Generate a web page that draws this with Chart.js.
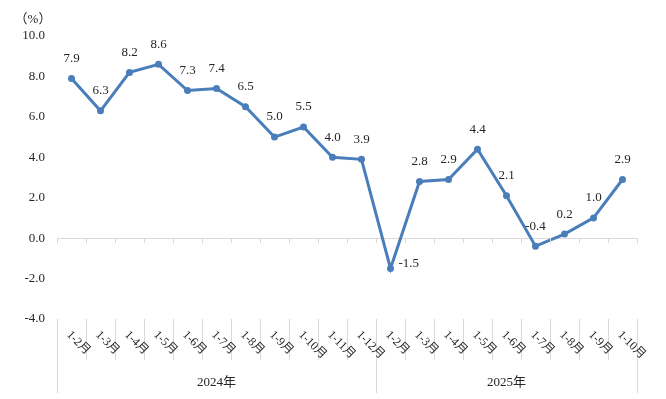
<!DOCTYPE html>
<html>
<head>
<meta charset="utf-8">
<script src="https://cdn.jsdelivr.net/npm/chart.js@4"></script>
<style>
    html, body { margin: 0; padding: 0; background: #fff; }
    #wrap { width: 666px; height: 399px; position: relative; }
</style>
</head>
<body>
<div id="wrap"><canvas id="chart"></canvas></div>
<script>
const months2024 = ['1-2月', '1-3月', '1-4月', '1-5月', '1-6月', '1-7月', '1-8月', '1-9月', '1-10月', '1-11月', '1-12月'];
const months2025 = ['1-2月', '1-3月', '1-4月', '1-5月', '1-6月', '1-7月', '1-8月', '1-9月', '1-10月'];
const values2024 = [7.9, 6.3, 8.2, 8.6, 7.3, 7.4, 6.5, 5.0, 5.5, 4.0, 3.9];
const values2025 = [-1.5, 2.8, 2.9, 4.4, 2.1, -0.4, 0.2, 1.0, 2.9];
const years = ['2024年', '2025年'];
const yTicks = [-4, -2, 0, 2, 4, 6, 8, 10];
const unitLabel = '（%）';

const labels = months2024.concat(months2025);
const values = values2024.concat(values2025);
const groupSizes = [months2024.length, months2025.length];

const serif = '"Times New Roman", "Liberation Serif", "Noto Sans CJK SC", serif';
const textColor = '#262626';
const sepColor = '#d9d9d9';

// labels above points, rotated month labels, year row, separators
const decorations = {
    id: 'decorations',
    afterDatasetsDraw(chart) {
        const ctx = chart.ctx;
        const xs = chart.scales.x;
        const ys = chart.scales.y;
        const area = chart.chartArea;
        const zeroY = ys.getPixelForValue(0);
        const meta = chart.getDatasetMeta(0);

        ctx.save();
        // small ticks on the zero line
        ctx.strokeStyle = sepColor;
        ctx.lineWidth = 1;
        for (let i = 0; i <= labels.length; i++) {
            const x = Math.round(xs.getPixelForValue(i - 0.5)) + 0.5;
            ctx.beginPath();
            ctx.moveTo(x, zeroY);
            ctx.lineTo(x, zeroY + 5);
            ctx.stroke();
        }

        // separators under the plot
        let boundary = 0;
        const groupEdges = [0];
        groupSizes.forEach(n => { boundary += n; groupEdges.push(boundary); });
        for (let i = 0; i <= labels.length; i++) {
            const x = Math.round(xs.getPixelForValue(i - 0.5)) + 0.5;
            const isGroup = groupEdges.includes(i);
            ctx.beginPath();
            ctx.moveTo(x, area.bottom);
            ctx.lineTo(x, isGroup ? area.bottom + 74 : area.bottom + 41);
            ctx.stroke();
        }

        // rotated month labels
        ctx.fillStyle = textColor;
        ctx.font = '12px ' + serif;
        ctx.textAlign = 'left';
        ctx.textBaseline = 'middle';
        labels.forEach((lab, i) => {
            const x = xs.getPixelForValue(i);
            ctx.save();
            ctx.translate(x - 3, area.bottom + 14);
            ctx.rotate(Math.PI / 4);
            ctx.fillText(lab, 0, 0);
            ctx.restore();
        });

        // year labels
        ctx.font = '13px ' + serif;
        ctx.textAlign = 'center';
        years.forEach((y, g) => {
            const x0 = xs.getPixelForValue(groupEdges[g] - 0.5);
            const x1 = xs.getPixelForValue(groupEdges[g + 1] - 0.5);
            ctx.fillText(y, (x0 + x1) / 2, area.bottom + 64);
        });

        // unit label
        ctx.fillText(unitLabel, 33, 20);

        // value labels
        const minIdx = values.indexOf(Math.min(...values));
        meta.data.forEach((pt, i) => {
            const txt = values[i].toFixed(1);
            if (i === minIdx) {
                ctx.textAlign = 'left';
                ctx.fillText(txt, pt.x + 8, pt.y - 5);
            } else {
                ctx.textAlign = 'center';
                ctx.fillText(txt, pt.x, pt.y - 20);
            }
        });
        ctx.restore();
    }
};

new Chart(document.getElementById('chart'), {
    type: 'line',
    data: {
        labels: labels,
        datasets: [{
            data: values,
            borderColor: '#4A7EBB',
            backgroundColor: '#4A7EBB',
            borderWidth: 3,
            pointRadius: 3.5,
            pointBorderWidth: 0,
            tension: 0,
            fill: false
        }]
    },
    options: {
        responsive: true,
        maintainAspectRatio: false,
        animation: false,
        layout: {
            padding: { top: 36, bottom: 80, left: 0, right: 29 }
        },
        plugins: {
            legend: { display: false },
            tooltip: { enabled: false }
        },
        scales: {
            x: {
                type: 'category',
                offset: true,
                display: false
            },
            y: {
                min: yTicks[0],
                max: yTicks[yTicks.length - 1],
                afterFit: s => { s.width = 57; },
                afterBuildTicks: s => { s.ticks = yTicks.map(v => ({ value: v })); },
                border: { display: false },
                grid: {
                    drawTicks: false,
                    color: c => c.tick.value === 0 ? sepColor : 'rgba(0,0,0,0)'
                },
                ticks: {
                    padding: 12,
                    color: textColor,
                    font: { family: serif, size: 13 },
                    callback: v => Number(v).toFixed(1)
                }
            }
        }
    },
    plugins: [decorations]
});
</script>
</body>
</html>
